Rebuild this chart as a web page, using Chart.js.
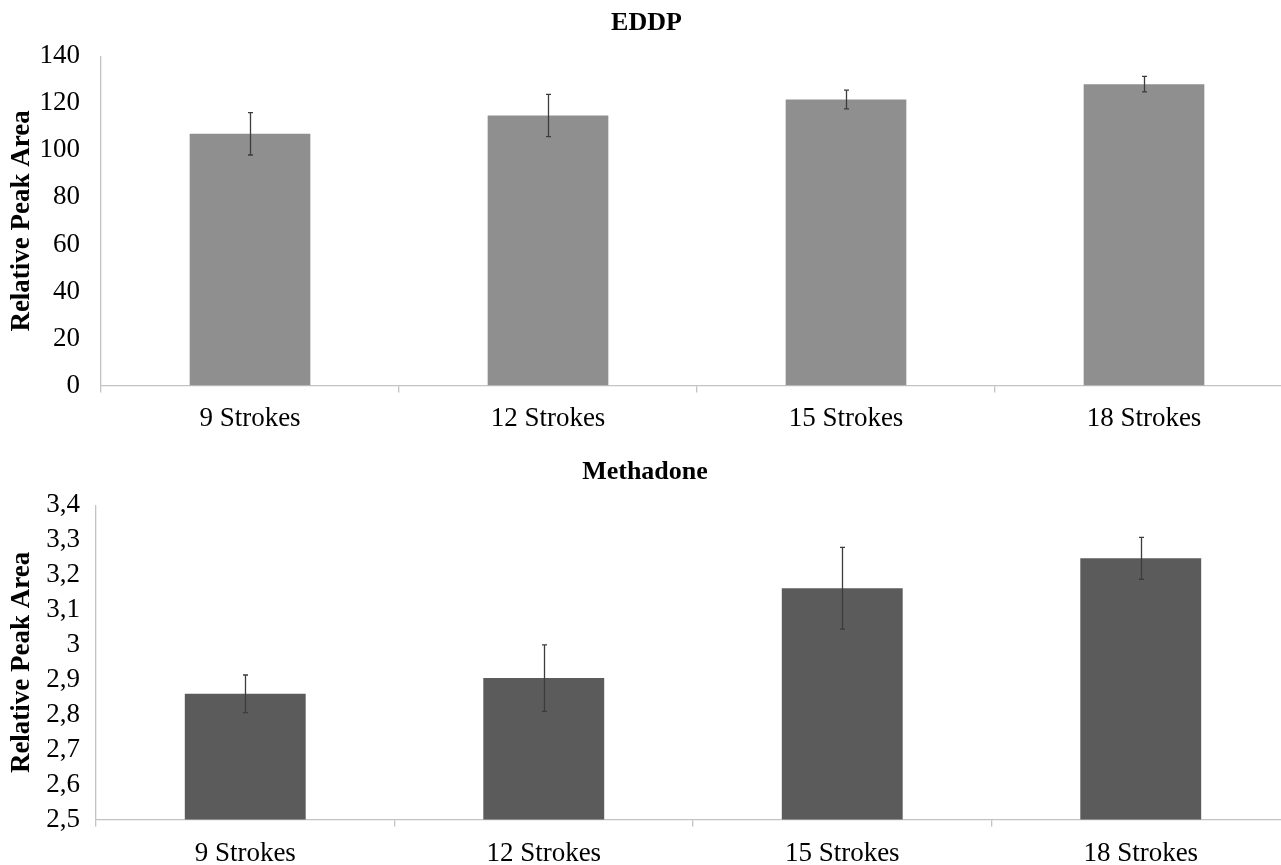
<!DOCTYPE html>
<html><head><meta charset="utf-8">
<script src="https://cdn.jsdelivr.net/npm/chart.js@4.4.1/dist/chart.umd.min.js"></script>
<style>
html,body{margin:0;padding:0;background:#fff;overflow:hidden;}
#wrap{position:relative;width:1281px;height:865px;overflow:hidden;background:#fff;}
#c1{position:absolute;left:0;top:0;}
#c2{position:absolute;left:0;top:440px;}
</style></head><body>
<div id="wrap"><canvas id="c1" width="1300" height="445"></canvas><canvas id="c2" width="1300" height="441"></canvas></div>
<script>
const categories = ['9 Strokes', '12 Strokes', '15 Strokes', '18 Strokes'];
const eddpValues = [107.0, 114.8, 121.6, 128.1];
const eddpErrors = [9.0, 9.0, 4.0, 3.3];
const methadoneValues = [2.86, 2.905, 3.162, 3.248];
const methadoneErrors = [0.054, 0.095, 0.117, 0.060];
const eddpTickLabels = ['0', '20', '40', '60', '80', '100', '120', '140'];
const methadoneTickLabels = ['2,5', '2,6', '2,7', '2,8', '2,9', '3', '3,1', '3,2', '3,3', '3,4'];

const FONT = '"Liberation Serif", "Times New Roman", serif';
const AXIS_COLOR = '#c3c3c3';

function errorBarPlugin(errors) {
  return {
    id: 'errbars',
    afterDatasetsDraw(chart) {
      const ctx = chart.ctx;
      const meta = chart.getDatasetMeta(0);
      const ys = chart.scales.y;
      const vals = chart.data.datasets[0].data;
      ctx.save();
      ctx.strokeStyle = '#3c3c3c';
      ctx.lineWidth = 1.3;
      meta.data.forEach((bar, i) => {
        const x = Math.round(bar.x) + 0.5;
        const yt = ys.getPixelForValue(vals[i] + errors[i]);
        const yb = ys.getPixelForValue(vals[i] - errors[i]);
        ctx.beginPath();
        ctx.moveTo(x, yt); ctx.lineTo(x, yb);
        ctx.moveTo(x - 2.5, yt); ctx.lineTo(x + 2.5, yt);
        ctx.moveTo(x - 2.5, yb); ctx.lineTo(x + 2.5, yb);
        ctx.stroke();
      });
      ctx.restore();
    }
  };
}

function makeChart(id, cfg) {
  const labels = cfg.tickLabels;
  return new Chart(document.getElementById(id), {
    type: 'bar',
    data: {
      labels: categories,
      datasets: [{
        data: cfg.values,
        backgroundColor: cfg.color,
        borderWidth: 0,
        barPercentage: 0.405,
        categoryPercentage: 1.0
      }]
    },
    plugins: [errorBarPlugin(cfg.errors)],
    options: {
      responsive: false,
      animation: false,
      events: [],
      layout: { padding: { left: 0, right: cfg.padRight, top: 0, bottom: cfg.padBottom } },
      plugins: {
        legend: { display: false },
        tooltip: { enabled: false },
        title: {
          display: true,
          text: cfg.title,
          color: '#000',
          font: { family: FONT, size: 26, weight: 'bold' },
          padding: { top: cfg.titleTop, bottom: cfg.titleBottom }
        }
      },
      scales: {
        x: {
          offset: true,
          grid: { display: true, drawOnChartArea: false, color: AXIS_COLOR, tickLength: 7, lineWidth: 1.3 },
          border: { display: true, color: AXIS_COLOR, width: 1.3 },
          ticks: { color: '#000', font: { family: FONT, size: 27 }, padding: cfg.xPad, maxRotation: 0, autoSkip: false }
        },
        y: {
          min: cfg.min, max: cfg.max,
          afterFit(scale) { scale.width = cfg.axisX; },
          grid: { display: false, drawTicks: false },
          border: { display: true, color: AXIS_COLOR, width: 1.3 },
          ticks: {
            stepSize: cfg.step,
            autoSkip: false,
            color: '#000',
            font: { family: FONT, size: 27 },
            padding: cfg.yPad,
            callback: (v) => labels[Math.round((v - cfg.min) / cfg.step)]
          },
          title: {
            display: true,
            text: 'Relative Peak Area',
            color: '#000',
            font: { family: FONT, size: 27, weight: 'bold' },
            padding: { top: 6, bottom: 0 }
          }
        }
      }
    }
  });
}

makeChart('c1', {
  title: 'EDDP', values: eddpValues, errors: eddpErrors, tickLabels: eddpTickLabels,
  color: '#8f8f8f', min: 0, max: 140, step: 20, axisX: 101, yPad: 21,
  padRight: 7, padBottom: 0, titleTop: 8, titleBottom: 17, xPad: 10
});
makeChart('c2', {
  title: 'Methadone', values: methadoneValues, errors: methadoneErrors, tickLabels: methadoneTickLabels,
  color: '#5b5b5b', min: 2.5, max: 3.4, step: 0.1, axisX: 96, yPad: 16,
  padRight: 10, padBottom: 0, titleTop: 17, titleBottom: 17, xPad: 11
});
</script>
</body></html>
